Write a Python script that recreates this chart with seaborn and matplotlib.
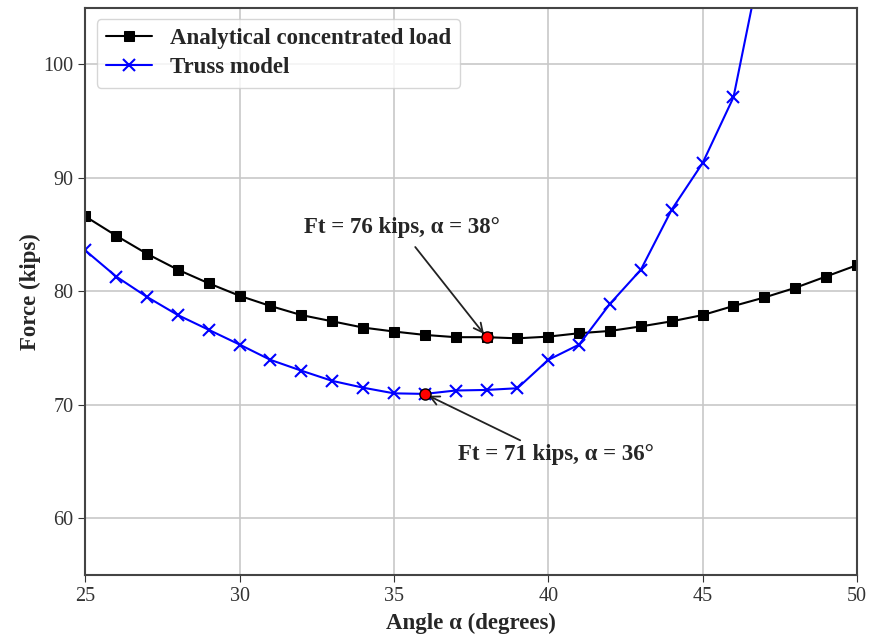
import matplotlib
matplotlib.use("Agg")
import matplotlib.pyplot as plt
import seaborn as sns
import pandas as pd

angles_analytical = [25, 26, 27, 28, 29, 30, 31, 32, 33, 34, 35, 36, 37, 38, 39, 40,
                     41, 42, 43, 44, 45, 46, 47, 48, 49, 50]
force_analytical = [86.6, 84.9, 83.3, 81.9, 80.7, 79.6, 78.7, 77.9, 77.35, 76.8, 76.45, 76.15,
                    75.95, 75.95, 75.85, 76.0, 76.3, 76.5, 76.9, 77.35, 77.9, 78.7, 79.45,
                    80.3, 81.3, 82.3]
angles_truss = [25, 26, 27, 28, 29, 30, 31, 32, 33, 34, 35, 36, 37, 38, 39, 40, 41, 42,
                43, 44, 45, 46, 47]
force_truss = [83.6, 81.3, 79.5, 77.9, 76.6, 75.3, 73.95, 73.0, 72.1, 71.5, 71.0, 70.95,
               71.25, 71.3, 71.45, 73.95, 75.3, 78.9, 81.9, 87.2, 91.3, 97.1, 110.5]
label_analytical = "Analytical concentrated load"
label_truss = "Truss model"
min_points_x = [38, 36]
min_points_y = [75.95, 70.95]
annot_texts = ["Ft = 76 kips, α = 38°", "Ft = 71 kips, α = 36°"]

sns.set_style("ticks")
plt.rcParams['font.family'] = ['Liberation Serif', 'DejaVu Serif']

fig = plt.figure(figsize=(8.7, 6.38), dpi=100)
ax = fig.add_axes([0.098, 0.099, 0.887, 0.889])

df_a = pd.DataFrame({"x": angles_analytical, "y": force_analytical})
df_t = pd.DataFrame({"x": angles_truss, "y": force_truss})

sns.lineplot(data=df_a, x="x", y="y", ax=ax, color="black", marker="s", markersize=7.5,
             markeredgecolor="black", linewidth=1.5, label=label_analytical)
sns.lineplot(data=df_t, x="x", y="y", ax=ax, color="#0000ff", marker="x", markersize=8,
             markeredgewidth=1.5, markeredgecolor="#0000ff", linewidth=1.5, label=label_truss)

ax.plot(min_points_x, min_points_y, linestyle="none", marker="o", markersize=8,
        markerfacecolor="red", markeredgecolor="black", markeredgewidth=1.0, zorder=5)

ax.set_xlim(25, 50)
ax.set_ylim(55, 105)
ax.set_xticks([25, 30, 35, 40, 45, 50])
ax.set_yticks([60, 70, 80, 90, 100])
ax.grid(True, color="#c8c8c8", linewidth=1.2)
ax.set_axisbelow(True)
ax.tick_params(labelsize=14.5, colors="#333333", length=5, labelcolor="#333333")
for s in ax.spines.values():
    s.set_color("#444444")
    s.set_linewidth(1.5)

ax.set_xlabel("Angle α (degrees)", fontsize=16.5, fontweight="bold", labelpad=5)
ax.set_ylabel("Force (kips)", fontsize=16.5, fontweight="bold", labelpad=2)

# annotations
ax.text(35.27, 85.6, annot_texts[0], fontsize=16.5, fontweight="bold", ha="center", va="center")
ax.annotate("", xy=(min_points_x[0], min_points_y[0]), xytext=(35.69, 83.9),
            arrowprops=dict(arrowstyle="->", color="#222222", lw=1.3, shrinkA=0, shrinkB=3,
                            mutation_scale=16))
ax.text(40.25, 65.63, annot_texts[1], fontsize=16.5, fontweight="bold", ha="center", va="center")
ax.annotate("", xy=(min_points_x[1], min_points_y[1]), xytext=(39.09, 66.86),
            arrowprops=dict(arrowstyle="->", color="#222222", lw=1.3, shrinkA=0, shrinkB=3,
                            mutation_scale=16))

leg = ax.legend(loc="upper left", prop={"weight": "bold", "size": 16.5}, frameon=True,
                fancybox=True, framealpha=0.8, borderpad=0.4, handlelength=2.0,
                labelspacing=0.35, bbox_to_anchor=(0.0, 1.0))
leg.get_frame().set_edgecolor("#cccccc")

fig.savefig("out.png", dpi=100)
